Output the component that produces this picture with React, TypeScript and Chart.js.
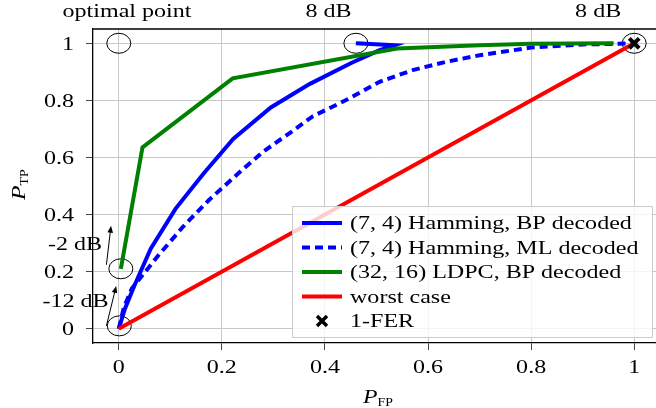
import React, { useEffect, useRef } from "react";
import { Chart, registerables } from "chart.js";

Chart.register(...registerables);

// ---------- data ----------
const xTicks = [0, 0.2, 0.4, 0.6, 0.8, 1];
const yTicks = [0, 0.2, 0.4, 0.6, 0.8, 1];
const xTickLabels = ["0", "0.2", "0.4", "0.6", "0.8", "1"];
const yTickLabels = ["0", "0.2", "0.4", "0.6", "0.8", "1"];

const seriesLabels = [
  "(7, 4) Hamming, BP decoded",
  "(7, 4) Hamming, ML decoded",
  "(32, 16) LDPC, BP decoded",
  "worst case",
  "1-FER",
];

const hammingBpX = [0, 0.012, 0.03, 0.062, 0.11, 0.165, 0.222, 0.295, 0.37, 0.45, 0.505, 0.535, 0.46];
const hammingBpY = [0, 0.07, 0.15, 0.28, 0.42, 0.545, 0.665, 0.775, 0.857, 0.93, 0.975, 0.993, 1.0];

const hammingMlX = [0, 0.01, 0.025, 0.075, 0.125, 0.175, 0.228, 0.28, 0.335, 0.376, 0.441, 0.506, 0.57, 0.635, 0.7, 0.8, 0.9, 0.97, 1.0];
const hammingMlY = [0, 0.075, 0.14, 0.253, 0.358, 0.451, 0.538, 0.62, 0.69, 0.744, 0.801, 0.865, 0.906, 0.935, 0.958, 0.985, 0.996, 0.998, 1.0];

const ldpcX = [0.004, 0.046, 0.221, 0.54, 0.7, 0.8, 0.96];
const ldpcY = [0.21, 0.635, 0.877, 0.982, 0.993, 0.998, 1.0];

const worstX = [0, 1];
const worstY = [0, 1];

const ferX = [1];
const ferY = [1];

// annotations (data coordinates)
const circleX = [0, 0.46, 1, 0.004, 0.001];
const circleY = [1, 1, 1, 0.21, 0.01];
const noteTexts = ["optimal point", "8 dB", "8 dB", "-2 dB", "-12 dB"];
const noteX = [0.016, 0.407, 0.93, -0.085, -0.084];
const noteY = [1.091, 1.091, 1.091, 0.276, 0.077];
const arrowFromX = [-0.024, -0.024];
const arrowFromY = [0.224, 0.01];
const arrowToX = [-0.015, -0.005];
const arrowToY = [0.361, 0.15];

// ---------- helpers ----------
const FONT = '"Liberation Serif", "Times New Roman", serif';
const SX = 1.3;

const pts = (xs: number[], ys: number[]) => xs.map((v, i) => ({ x: v, y: ys[i] }));

function measure(ctx: CanvasRenderingContext2D, s: string, size: number, italic = false, sx = SX) {
  ctx.save();
  ctx.font = `${italic ? "italic " : ""}${size}px ${FONT}`;
  const w = ctx.measureText(s).width * sx;
  ctx.restore();
  return w;
}

function txt(
  ctx: CanvasRenderingContext2D,
  s: string,
  x: number,
  y: number,
  align: "left" | "center" | "right",
  size: number,
  italic = false,
  sx = SX
) {
  const w = measure(ctx, s, size, italic, sx);
  const start = align === "left" ? x : align === "center" ? x - w / 2 : x - w;
  ctx.save();
  ctx.font = `${italic ? "italic " : ""}${size}px ${FONT}`;
  ctx.fillStyle = "#000";
  ctx.textAlign = "left";
  ctx.textBaseline = "alphabetic";
  ctx.translate(start, y);
  ctx.scale(sx, 1);
  ctx.fillText(s, 0, 0);
  ctx.restore();
}

function drawCross(ctx: CanvasRenderingContext2D, cx: number, cy: number, r: number, lw: number) {
  ctx.save();
  ctx.strokeStyle = "#000";
  ctx.lineWidth = lw;
  ctx.lineCap = "butt";
  ctx.beginPath();
  ctx.moveTo(cx - r, cy - r);
  ctx.lineTo(cx + r, cy + r);
  ctx.moveTo(cx - r, cy + r);
  ctx.lineTo(cx + r, cy - r);
  ctx.stroke();
  ctx.restore();
}

const decor = {
  id: "decor",
  beforeDatasetsDraw(chart: any) {
    const { ctx, scales } = chart;
    const x = scales.x;
    const y = scales.y;
    ctx.save();
    ctx.strokeStyle = "#000";
    ctx.lineWidth = 1;
    circleX.forEach((cx, i) => {
      ctx.beginPath();
      ctx.ellipse(x.getPixelForValue(cx), y.getPixelForValue(circleY[i]), 12, 10, 0, 0, Math.PI * 2);
      ctx.stroke();
    });
    arrowFromX.forEach((fx, i) => {
      const x0 = x.getPixelForValue(fx);
      const y0 = y.getPixelForValue(arrowFromY[i]);
      const x1 = x.getPixelForValue(arrowToX[i]);
      const y1 = y.getPixelForValue(arrowToY[i]);
      const ang = Math.atan2(y1 - y0, x1 - x0);
      const hl = 7;
      const hw = 2.8;
      ctx.beginPath();
      ctx.moveTo(x0, y0);
      ctx.lineTo(x1 - Math.cos(ang) * hl * 0.6, y1 - Math.sin(ang) * hl * 0.6);
      ctx.stroke();
      ctx.beginPath();
      ctx.moveTo(x1, y1);
      ctx.lineTo(x1 - Math.cos(ang) * hl - Math.sin(ang) * hw, y1 - Math.sin(ang) * hl + Math.cos(ang) * hw);
      ctx.lineTo(x1 - Math.cos(ang) * hl + Math.sin(ang) * hw, y1 - Math.sin(ang) * hl - Math.cos(ang) * hw);
      ctx.closePath();
      ctx.fillStyle = "#000";
      ctx.fill();
    });
    ctx.restore();
  },
  afterDraw(chart: any) {
    const { ctx, chartArea: a, scales } = chart;
    const x = scales.x;
    const y = scales.y;

    // top and right frame lines
    ctx.save();
    ctx.strokeStyle = "#000";
    ctx.lineWidth = 1.3;
    ctx.beginPath();
    ctx.moveTo(a.left, a.top);
    ctx.lineTo(a.right, a.top);
    ctx.lineTo(a.right, a.bottom);
    ctx.stroke();
    ctx.restore();

    // tick labels
    yTicks.forEach((v, i) => {
      txt(ctx, yTickLabels[i], a.left - 19, y.getPixelForValue(v) + 6.5, "right", 18.5);
    });
    xTicks.forEach((v, i) => {
      txt(ctx, xTickLabels[i], x.getPixelForValue(v), a.bottom + 29.5, "center", 18.5);
    });

    // x axis title  P_FP
    {
      const pw = measure(ctx, "P", 19, true, 1.25);
      const sw = measure(ctx, "FP", 11.5, false, 1.2);
      const cx = (a.left + a.right) / 2 + 1.5;
      const start = cx - (pw + sw) / 2;
      txt(ctx, "P", start, 403, "left", 19, true, 1.25);
      txt(ctx, "FP", start + pw, 406, "left", 11.5, false, 1.2);
    }
    // y axis title P_TP
    {
      const pw = measure(ctx, "P", 19, true, 1.25);
      ctx.save();
      ctx.translate(25, 200);
      ctx.rotate(-Math.PI / 2);
      txt(ctx, "P", 0, 0, "left", 19, true, 1.25);
      txt(ctx, "TP", pw, 3, "left", 11.5, false, 1.2);
      ctx.restore();
    }

    // notes
    noteTexts.forEach((t, i) => {
      txt(ctx, t, x.getPixelForValue(noteX[i]), y.getPixelForValue(noteY[i]), "center", 18.5);
    });

    // legend
    const lw = 361;
    const lh = 132;
    const right = a.right - 7;
    const bottom = a.bottom - 5;
    const left = right - lw;
    const top = bottom - lh;
    ctx.save();
    ctx.fillStyle = "rgba(255,255,255,0.8)";
    ctx.fillRect(left, top, lw, lh);
    ctx.strokeStyle = "#cccccc";
    ctx.lineWidth = 1;
    ctx.strokeRect(left + 0.5, top + 0.5, lw - 1, lh - 1);
    ctx.restore();
    chart.data.datasets.forEach((ds: any, i: number) => {
      const cy = top + 17 + i * 24.5;
      if (ds.showLine !== false) {
        ctx.save();
        ctx.strokeStyle = ds.borderColor;
        ctx.lineWidth = ds.borderWidth;
        ctx.setLineDash(ds.borderDash || []);
        ctx.beginPath();
        ctx.moveTo(left + 10, cy);
        ctx.lineTo(left + 50, cy);
        ctx.stroke();
        ctx.restore();
      } else {
        drawCross(ctx, left + 30, cy, 5, 3.5);
      }
      txt(ctx, ds.label, left + 58, cy + 6, "left", 18.5);
    });
  },
};

export default function App() {
  const ref = useRef<HTMLCanvasElement>(null);
  useEffect(() => {
    const canvas = ref.current!;
    const lineDs = (label: string, data: any[], color: string, order: number, dash?: number[]) => ({
      label,
      data,
      borderColor: color,
      backgroundColor: color,
      borderWidth: 4,
      borderDash: dash || [],
      pointRadius: 0,
      pointHoverRadius: 0,
      fill: false,
      tension: 0,
      showLine: true,
      order,
    });
    const chart = new Chart(canvas, {
      type: "line",
      data: {
        datasets: [
          lineDs(seriesLabels[0], pts(hammingBpX, hammingBpY), "#0000ff", 5),
          lineDs(seriesLabels[1], pts(hammingMlX, hammingMlY), "#0000ff", 4, [8, 5]),
          lineDs(seriesLabels[2], pts(ldpcX, ldpcY), "#008000", 3),
          lineDs(seriesLabels[3], pts(worstX, worstY), "#ff0000", 2),
          {
            label: seriesLabels[4],
            data: pts(ferX, ferY),
            showLine: false,
            pointStyle: "crossRot",
            pointRadius: 7,
            pointBorderWidth: 4,
            borderWidth: 4,
            borderColor: "#000",
            backgroundColor: "#000",
            pointBorderColor: "#000",
            order: 1,
          } as any,
        ],
      },
      options: {
        animation: false,
        responsive: false,
        devicePixelRatio: 1,
        events: [],
        layout: { autoPadding: false, padding: { left: 0, top: 29, right: 1, bottom: 0 } },
        plugins: {
          legend: { display: false },
          tooltip: { enabled: false },
          title: { display: false },
        },
        scales: {
          x: {
            type: "linear",
            min: -0.05,
            max: 1.05,
            afterBuildTicks: (s: any) => {
              s.ticks = xTicks.map((v) => ({ value: v }));
            },
            afterFit: (s: any) => {
              s.height = 65;
            },
            grid: { color: "#c8c8c8", lineWidth: 1, tickLength: 7, tickColor: "#444", drawTicks: true },
            border: { color: "#000", width: 1.3 },
            ticks: { display: false },
          },
          y: {
            type: "linear",
            min: -0.05,
            max: 1.05,
            afterBuildTicks: (s: any) => {
              s.ticks = yTicks.map((v) => ({ value: v }));
            },
            afterFit: (s: any) => {
              s.width = 93;
            },
            grid: { color: "#c8c8c8", lineWidth: 1, tickLength: 7, tickColor: "#444", drawTicks: true },
            border: { color: "#000", width: 1.3 },
            ticks: { display: false },
          },
        },
      } as any,
      plugins: [decor],
    });
    return () => chart.destroy();
  }, []);
  return (
    <div
      style={{
        position: "fixed",
        left: 0,
        top: 0,
        width: 656,
        height: 408,
        overflow: "hidden",
        background: "#fff",
      }}
    >
      <canvas ref={ref} width={661} height={408} style={{ display: "block", width: 661, height: 408 }} />
    </div>
  );
}
